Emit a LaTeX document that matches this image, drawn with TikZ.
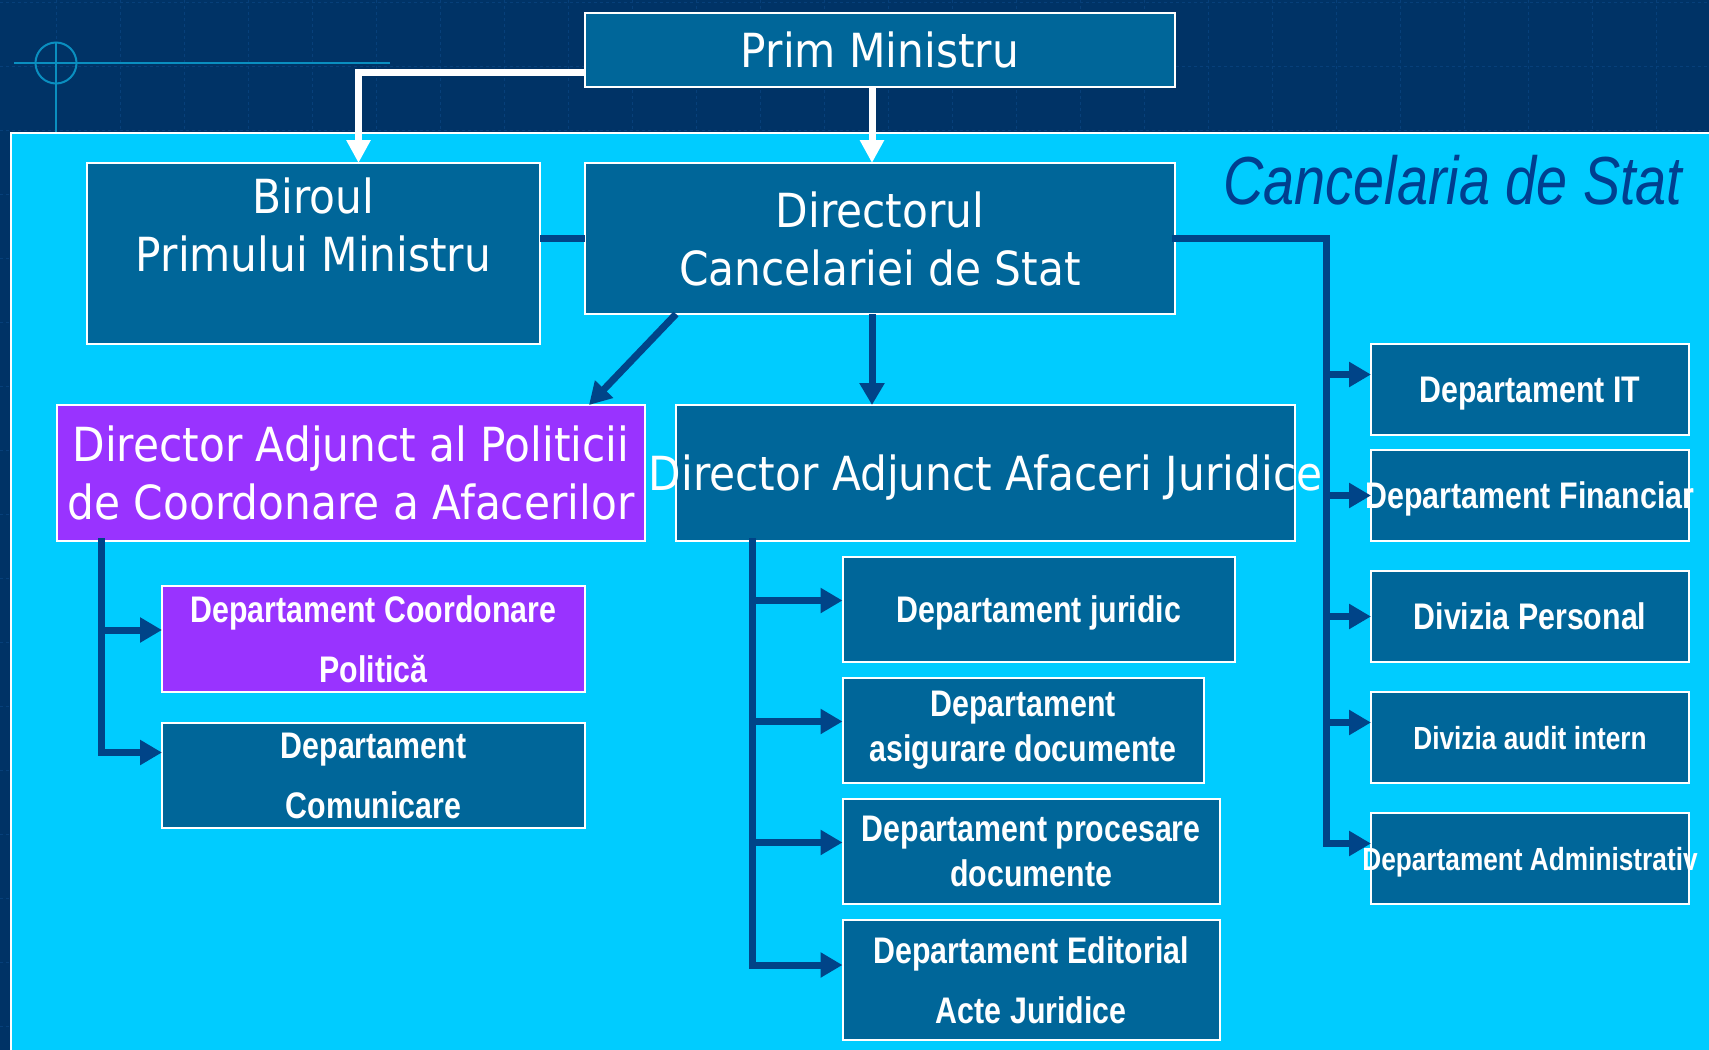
\documentclass[tikz,border=0pt]{standalone}
\usepackage{fontspec}
\usetikzlibrary{arrows.meta,calc}
\newfontfamily\titlefont[FakeStretch=0.9]{DejaVu Sans}
\newfontfamily\deptfont[FakeStretch=0.82]{Liberation Sans}
\definecolor{navy}{HTML}{003366}
\definecolor{panel}{HTML}{00CCFF}
\definecolor{boxblue}{HTML}{006699}
\definecolor{boxviolet}{HTML}{9933FF}
\definecolor{linkblue}{HTML}{004488}
\definecolor{gridblue}{HTML}{07407A}
\definecolor{crossblue}{HTML}{0A8FC0}
\definecolor{statblue}{HTML}{003F8F}
\begin{document}
\begin{tikzpicture}[x=1pt, y=-1pt,
  box/.style={draw=white, line width=2pt, fill=boxblue, text=white, inner sep=0pt, outer sep=0pt, align=center},
  bigbox/.style={box, font=\titlefont\fontsize{47}{58}\selectfont},
  deptbox/.style={box, font=\deptfont\bfseries\fontsize{37}{45}\selectfont},
  sidebox/.style={deptbox, minimum width=318pt, minimum height=91pt, text depth=0pt},
  link/.style={draw=linkblue, line width=7pt},
  linkarrow/.style={link, -{Triangle[length=22pt,width=24pt]}},
  whitearrow/.style={draw=white, line width=7pt, -{Triangle[length=23pt,width=23pt]}},
  gridline/.style={draw=gridblue, line width=1pt, dashed}
]

  \useasboundingbox (0,0) rectangle (1709,1050);
  \fill[navy] (0,0) rectangle (1709,1050);
  \foreach \x in {56,120,...,1709} \draw[gridline] (\x,0) -- (\x,1050);
  \foreach \y in {2,66,...,1050} \draw[gridline] (0,\y) -- (1709,\y);

  \draw[crossblue, line width=2pt] (56,63) circle (20.5);
  \draw[crossblue, line width=2pt] (14,63) -- (390,63);
  \draw[crossblue, line width=2pt] (56,43) -- (56,133);

  \filldraw[fill=panel, draw=white, line width=1.5pt] (11,133) rectangle (1712,1053);

  \node[font=\deptfont\itshape\fontsize{68}{68}\selectfont, text=statblue] (cancel) at (1453,180) {Cancelaria de Stat};

  \node[bigbox, minimum width=590pt, minimum height=74pt] (prim) at (880,50) {Prim Ministru};
  \node[bigbox, minimum width=453pt, minimum height=181pt] (birou) at (313.5,253.5) {Biroul\\Primului Ministru\\\mbox{}};
  \node[bigbox, minimum width=590pt, minimum height=151pt] (dir) at (880,238.5) {Directorul\\Cancelariei de Stat};

  \node[bigbox, fill=boxviolet, minimum width=588pt, minimum height=136pt] (dapol) at (351,473) {Director Adjunct al Politicii\\de Coordonare a Afacerilor};
  \node[bigbox, minimum width=619pt, minimum height=136pt, text depth=0pt] (daj) at (985.5,473) {\makebox[0pt]{Director Adjunct Afaceri Juridice}};

  \node[deptbox, fill=boxviolet, minimum width=423pt, minimum height=106pt, font=\deptfont\bfseries\fontsize{37}{60}\selectfont] (coord) at (373.5,639) {Departament Coordonare\\Politică};
  \node[deptbox, minimum width=423pt, minimum height=105pt, font=\deptfont\bfseries\fontsize{37}{60}\selectfont] (comunic) at (373.5,775.5) {Departament\\Comunicare};

  \node[deptbox, minimum width=392.5pt, minimum height=105pt, text depth=0pt] (jur) at (1038.75,609.5) {Departament juridic};
  \node[deptbox, minimum width=361.5pt, minimum height=105pt] (asig) at (1023.25,730.5) {Departament\\asigurare documente};
  \node[deptbox, minimum width=377.5pt, minimum height=105pt] (proc) at (1031.25,851.5) {Departament procesare\\documente};
  \node[deptbox, minimum width=377.5pt, minimum height=120pt, font=\deptfont\bfseries\fontsize{37}{60}\selectfont] (edit) at (1031.25,980) {Departament Editorial\\Acte Juridice};

  \node[sidebox] (it) at (1530,389.5) {Departament IT};
  \node[sidebox] (fin) at (1530,495.5) {\makebox[0pt]{Departament Financiar}};
  \node[sidebox] (pers) at (1530,616.5) {Divizia Personal};
  \node[sidebox, font=\deptfont\bfseries\fontsize{32}{40}\selectfont] (audit) at (1530,737.5) {Divizia audit intern};
  \node[sidebox, font=\deptfont\bfseries\fontsize{32}{40}\selectfont] (admin) at (1530,858.5) {\makebox[0pt]{Departament Administrativ}};

  \draw[whitearrow] ([yshift=-22pt]prim.west) -| ([xshift=45pt]birou.north);
  \draw[whitearrow] ([xshift=-8pt]prim.south) -- ([xshift=-8pt]dir.north);

  \draw[link] (birou.east |- dir.west) -- (dir.west);
  \draw[linkarrow] ([xshift=91pt]dir.south west) -- ([xshift=-56pt]dapol.north east);
  \draw[linkarrow] ([xshift=-8pt]dir.south) -- ([xshift=-8pt]dir.south |- daj.north);

  \coordinate (rbus) at (1326,843);
  \draw[link, line cap=rect] (dir.east) -| (rbus);
  \foreach \n/\d in {it/15, fin/0, pers/0, audit/15, admin/15} {
    \path ([yshift=\d pt]\n.west) coordinate (tip);
    \draw[linkarrow] (tip -| rbus) -- (tip);
  }

  \coordinate (jbus) at (752,965);
  \draw[link, line cap=rect] ([xshift=76pt]daj.south west) -- (jbus);
  \foreach \n/\d in {jur/9, asig/9, proc/9, edit/15} {
    \path ([yshift=\d pt]\n.west) coordinate (tip);
    \draw[linkarrow] (tip -| jbus) -- (tip);
  }

  \coordinate (pbus) at (101,752);
  \draw[link, line cap=rect] ([xshift=44pt]dapol.south west) -- (pbus);
  \foreach \n/\d in {coord/9, comunic/23} {
    \path ([yshift=\d pt]\n.west) coordinate (tip);
    \draw[linkarrow] (tip -| pbus) -- (tip);
  }

\end{tikzpicture}
\end{document}
